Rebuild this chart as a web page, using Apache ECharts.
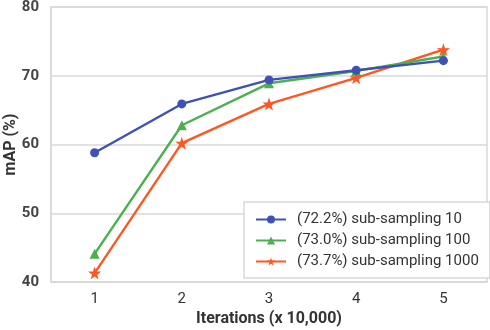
<!DOCTYPE html>
<html>
<head>
<meta charset="utf-8">
<script src="https://cdn.jsdelivr.net/npm/echarts@6/dist/echarts.min.js"></script>
<style>html,body{margin:0;padding:0;background:#fff}#c{width:490px;height:330px}</style>
</head>
<body>
<div id="c"></div>
<script>
const categories = ['1', '2', '3', '4', '5'];
const seriesNames = ['(72.2%) sub-sampling 10', '(73.0%) sub-sampling 100', '(73.7%) sub-sampling 1000'];
const sub10 = [58.8, 65.9, 69.4, 70.8, 72.2];
const sub100 = [44.1, 62.8, 68.9, 70.7, 72.8];
const sub1000 = [41.3, 60.2, 65.9, 69.7, 73.8];
const yTicks = [40, 50, 60, 70, 80];

const colors = ['#3F51B5', '#4CAF50', '#FF5722'];
const symbols = ['circle', 'triangle', 'path://M50,0 L61.8,35.1 L97.6,34.5 L69.1,56.7 L79.4,90.5 L50,70 L20.6,90.5 L30.9,56.7 L2.4,34.5 L38.2,35.1 Z'];
const symbolSizes = [9, 10, 13];
const data = [sub10, sub100, sub1000];

const chart = echarts.init(document.getElementById('c'), null, {renderer: 'canvas'});
chart.setOption({
  animation: false,
  textStyle: {fontFamily: 'Roboto'},
  grid: {left: 51, right: 3, top: 7, bottom: 48, show: true, borderColor: '#d9d9d9', borderWidth: 1.5, containLabel: false, outerBoundsMode: 'none'},
  xAxis: {
    type: 'category',
    data: categories,
    boundaryGap: true,
    name: 'Iterations (x 10,000)',
    nameLocation: 'middle',
    nameGap: 29,
    nameMoveOverlap: false,
    nameTextStyle: {fontSize: 16, fontWeight: 'bold', color: '#333', fontFamily: 'Roboto'},
    axisLine: {show: true, lineStyle: {color: '#d9d9d9', width: 1.5}},
    axisTick: {show: false},
    axisLabel: {fontSize: 15, color: '#333', margin: 10, fontFamily: 'Roboto'}
  },
  yAxis: {
    type: 'value',
    min: yTicks[0],
    max: yTicks[yTicks.length - 1],
    interval: 10,
    name: 'mAP (%)',
    nameLocation: 'middle',
    nameGap: 32,
    nameMoveOverlap: false,
    nameTextStyle: {fontSize: 16, fontWeight: 'bold', color: '#333', fontFamily: 'Roboto'},
    axisLine: {show: true, lineStyle: {color: '#d9d9d9', width: 1.5}},
    axisTick: {show: false},
    splitLine: {show: true, lineStyle: {color: '#d9d9d9', width: 1.5}},
    axisLabel: {fontSize: 15, fontWeight: 'bold', color: '#444', margin: 12, fontFamily: 'Roboto'}
  },
  legend: {
    left: 244,
    top: 202,
    orient: 'vertical',
    itemWidth: 30,
    itemHeight: 10,
    itemGap: 6,
    padding: [10, 11, 9, 11],
    borderColor: '#d9d9d9',
    borderWidth: 1.5,
    backgroundColor: '#fff',
    textStyle: {fontSize: 15, color: '#333', fontFamily: 'Roboto', padding: [0, 0, 0, 6]},
    data: seriesNames
  },
  series: seriesNames.map((n, i) => ({
    name: n,
    type: 'line',
    data: data[i],
    color: colors[i],
    symbol: symbols[i],
    symbolSize: symbolSizes[i],
    showSymbol: true,
    lineStyle: {width: 2.4, color: colors[i]},
    itemStyle: {color: colors[i]},
    z: 3 - i
  }))
});
</script>
</body>
</html>
